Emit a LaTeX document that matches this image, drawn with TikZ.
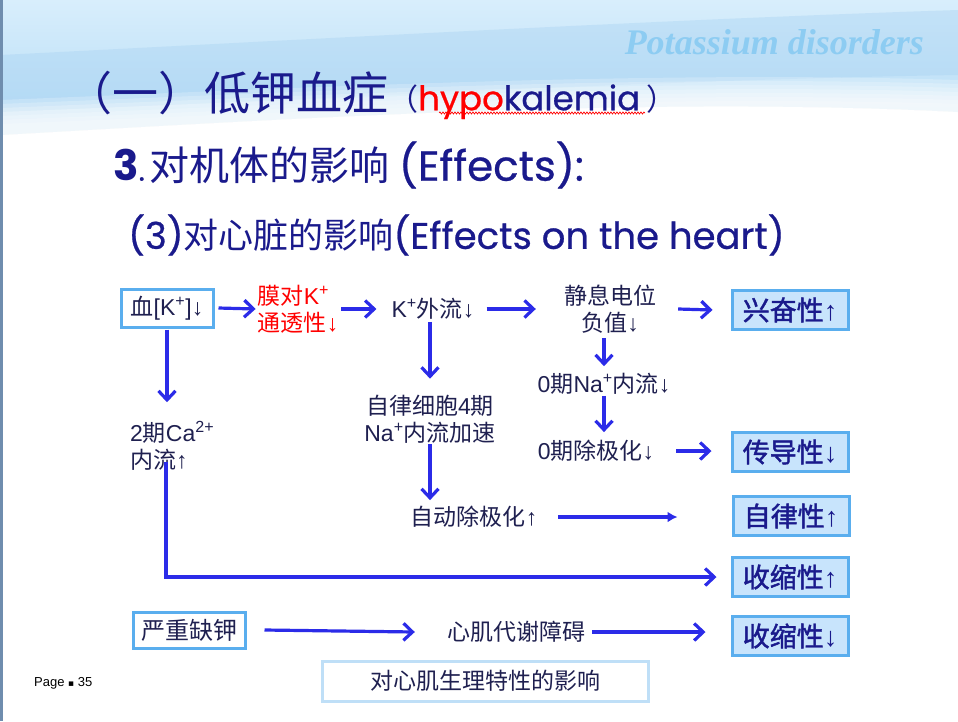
\documentclass[tikz,border=0pt]{standalone}
\usepackage{fontspec}
\setmainfont{Noto Sans CJK SC}
\newfontfamily\cjkmed{Noto Sans CJK SC}[FakeBold=1.6]
\newfontfamily\arial{Liberation Sans}
\newfontfamily\tnr{Liberation Serif}
\newfontfamily\djv{DejaVu Sans}
\newfontfamily\pop{Poppins}[FakeBold=0.6]
\newfontfamily\popb{Poppins}
\usetikzlibrary{arrows.meta,decorations.pathmorphing}
\definecolor{navy}{HTML}{1F2050}
\definecolor{ttl}{HTML}{1A1A8C}
\definecolor{arrb}{HTML}{2B2BE8}
\definecolor{bxb}{HTML}{5AAEEE}
\definecolor{bxf}{HTML}{C8E4FC}
\definecolor{capb}{HTML}{BFDFF7}
\definecolor{potc}{HTML}{8DCCF2}
\definecolor{hdra}{HTML}{D8EEFC}
\definecolor{hdrb}{HTML}{B4DBF5}
\definecolor{hdrc}{HTML}{A8D2F2}
\definecolor{edgec}{HTML}{6F8DAE}
\newcommand\supr[1]{\textsuperscript{#1}}
\newcommand\uparr{{\arial\mdseries ↑}}
\newcommand\dnarr{{\arial\mdseries ↓}}
\begin{document}
\begin{tikzpicture}[x=1pt,y=-1pt,
 txt/.style={text=navy,font=\fontsize{23}{27}\selectfont,align=center,inner sep=0pt},
 rbox/.style={draw=bxb,line width=3pt,fill=bxf,minimum width=116pt,minimum height=39pt,inner sep=0pt,text=ttl,font=\cjkmed\fontsize{27}{30}\selectfont},
 wbox/.style={draw=bxb,line width=3pt,fill=white,inner sep=0pt,text=navy,font=\fontsize{23}{27}\selectfont},
 arr/.style={draw=arrb,line width=3.2pt,-{Straight Barb[length=9pt,width=17pt]}},
]
\useasboundingbox (0,0) rectangle (958,721);
% background
\fill[white] (0,0) rectangle (958,721);
\shade[top color=hdra, bottom color=hdrb] (0,0) -- (958,0) -- (958,112) .. controls (650,96) and (300,118) .. (0,135) -- cycle;
\fill[hdrc,opacity=0.4] (0,55) .. controls (300,40) and (650,20) .. (958,10) -- (958,75) .. controls (650,80) and (300,100) .. (0,112) -- cycle;
\foreach \k in {0,...,6}{
  \fill[white,opacity=0.22] (0,{100+4*\k}) .. controls (300,{88+4*\k}) and (650,{70+4*\k}) .. (958,{80+4*\k}) -- (958,140) -- (0,140) -- cycle;
}
\fill[edgec] (0,0) rectangle (2.5,721);
% headings
\node[anchor=east,text=potc,font=\tnr\bfseries\itshape\fontsize{36}{40}\selectfont,inner sep=0pt] (pot) at (924,42) {Potassium disorders};
\node[anchor=west,text=ttl,inner sep=0pt] (title) at (66,95) {\fontsize{46}{52}\selectfont （一）低钾血症{\fontsize{30}{36}\selectfont （}{\pop\fontsize{34}{40}\selectfont\color{red}hypo}{\pop\fontsize{34}{40}\selectfont kalemia}{\fontsize{30}{36}\selectfont\ ）}};
\draw[red,line width=0.7pt,decorate,decoration={snake,amplitude=1pt,segment length=3pt}] (439,113) -- (645,113);
\node[anchor=west,text=ttl,inner sep=0pt,font=\fontsize{40}{44}\selectfont] (h2) at (113,165) {{\popb\bfseries\fontsize{42}{44}\selectfont 3}{\pop\fontsize{30}{44}\selectfont .\,}对机体的影响 {\pop\fontsize{42}{44}\selectfont (Effects):}};
\node[anchor=west,text=ttl,inner sep=0pt,font=\fontsize{35}{40}\selectfont] (h3) at (128,235) {{\pop\fontsize{37}{40}\selectfont (3)}对心脏的影响{\pop\fontsize{37}{40}\selectfont (Effects on the heart)}};
% nodes
\node[wbox,minimum width=92pt,minimum height=38pt] (blood) at (167,308) {血{\arial[K\supr{+}]}\dnarr};
\node[txt,text=red,align=left] (memb) at (298,309) {膜对{\arial K\supr{+}}\\通透性\dnarr};
\node[txt] (kout) at (433,309) {{\arial K\supr{+}}外流\dnarr};
\node[txt] (rest) at (610,309) {静息电位\\负值\dnarr};
\node[rbox] (excit) at (790,310) {兴奋性\uparr};
\node[txt] (na0) at (604,384) {{\arial 0}期{\arial Na\supr{+}}内流\dnarr};
\node[txt] (dep0) at (596,451) {{\arial 0}期除极化\dnarr};
\node[rbox] (cond) at (790,452) {传导性\dnarr};
\node[txt] (auto4) at (430,419) {自律细胞{\arial 4}期\\{\arial Na\supr{+}}内流加速};
\node[txt] (autodep) at (474,517) {自动除极化\uparr};
\node[rbox] (autorh) at (791,516) {自律性\uparr};
\node[txt,align=left,anchor=west] (ca) at (130,446) {{\arial 2}期{\arial Ca\supr{2+}}\\内流\uparr};
\node[rbox] (contr1) at (790,577) {收缩性\uparr};
\node[wbox,minimum width=112pt,minimum height=36pt,font=\fontsize{24}{28}\selectfont] (severe) at (189,630) {严重缺钾};
\node[txt] (metab) at (516,632) {心肌代谢障碍};
\node[rbox] (contr2) at (790,636) {收缩性\dnarr};
\node[wbox,draw=capb,minimum width=326pt,minimum height=40pt] (cap) at (485,681) {对心肌生理特性的影响};
\node[anchor=west,inner sep=0pt,font=\arial\fontsize{13}{15}\selectfont] (page) at (34,683) {Page {\djv\fontsize{9}{10}\selectfont ▪} 35};
% arrows
\draw[arr] ([xshift=4pt]blood.east) -- ([xshift=-2pt]memb.west);
\draw[arr] ([xshift=3pt]memb.east) -- ([xshift=-15pt]kout.west);
\draw[arr] ([xshift=12pt]kout.east) -- ([xshift=-28pt]rest.west);
\draw[arr] ([xshift=22pt]rest.east) -- ([xshift=-18pt]excit.west);
\draw[arr] ([yshift=-1pt]blood.south) -- ([yshift=19pt]blood.south |- ca.north);
\draw[arr] ([xshift=-3pt,yshift=-2pt]kout.south) -- ([xshift=-3pt,yshift=16pt]kout.south |- auto4.north);
\draw[arr] ([yshift=-5pt]na0.north |- rest.south) -- ([yshift=7pt]na0.north);
\draw[arr] ([yshift=-1pt]na0.south) -- ([yshift=8pt]na0.south |- dep0.north);
\draw[arr] ([xshift=22pt]dep0.east) -- ([xshift=-19pt]dep0.east -| cond.west);
\draw[arr] ([yshift=-1pt]auto4.south) -- ([yshift=6pt]auto4.south |- autodep.north);
\draw[draw=arrb,line width=3.2pt,-{Latex[length=10pt,width=11pt]}] ([xshift=21pt]autodep.east) -- ([xshift=-54pt]autodep.east -| autorh.west);
\coordinate (castart) at (166,462);
\draw[arr] (castart) |- ([xshift=-14pt]contr1.west);
\draw[arr] ([xshift=18pt]severe.east) -- ([xshift=-32pt]metab.west);
\draw[arr] ([xshift=7pt]metab.east) -- ([xshift=-25pt]metab.east -| contr2.west);
\end{tikzpicture}
\end{document}
